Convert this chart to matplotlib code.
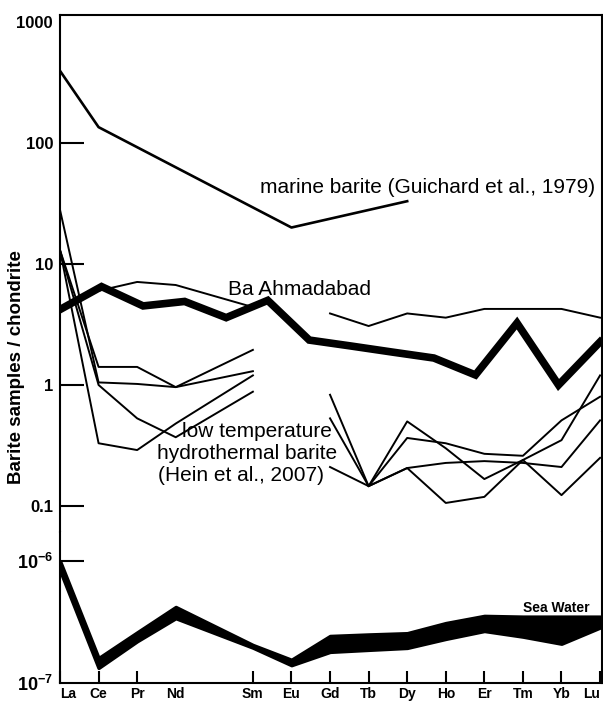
import numpy as np
import matplotlib.pyplot as plt

plt.rcParams['font.family'] = ['Liberation Sans', 'DejaVu Sans']
plt.rcParams['mathtext.fontset'] = 'custom'
plt.rcParams['mathtext.rm'] = 'Liberation Sans'
plt.rcParams['mathtext.bf'] = 'Liberation Sans:bold'

# rare earth elements (Pm slot left empty on the axis)
ree = ['La', 'Ce', 'Pr', 'Nd', 'Pm', 'Sm', 'Eu', 'Gd', 'Tb', 'Dy', 'Ho', 'Er', 'Tm', 'Yb', 'Lu']
shown = [e for e in ree if e != 'Pm']

# Ba Ahmadabad (plotted evenly over the whole width, as in the original)
ba_ahmadabad = [4.2, 6.5, 4.5, 4.9, 3.6, 5.0, 2.35, 2.1, 1.87, 1.67, 1.21, 3.25, 1.0, 2.27]

# marine barite (Guichard et al., 1979)
marine_el = ['La', 'Ce', 'Eu', 'Dy']
marine_val = [394, 135, 20, 33]

# low temperature hydrothermal barite (Hein et al., 2007), La..Sm part
hein_left_el = ['La', 'Ce', 'Pr', 'Nd', 'Sm']
hein_left = [
    [13, 1.41, 1.41, 0.96, 1.95],
    [28, 1.05, 1.02, 0.96, 1.30],
    [13, 1.0, 0.53, 0.37, 0.88],
    [13, 0.33, 0.29, 0.48, 1.2],
]
# Gd..Lu part
hein_right_el = ['Gd', 'Tb', 'Dy', 'Ho', 'Er', 'Tm', 'Yb', 'Lu']
hein_right = [
    [0.83, 0.146, 0.50, 0.30, 0.167, 0.24, 0.35, 1.2],
    [0.53, 0.146, 0.365, 0.33, 0.27, 0.26, 0.51, 0.8],
    [0.21, 0.146, 0.206, 0.227, 0.235, 0.227, 0.21, 0.51],
    [np.nan, 0.146, 0.206, 0.106, 0.119, 0.24, 0.123, 0.25],
]
# thin sample line above Ba Ahmadabad
upper_el = ['Ce', 'Pr', 'Nd', 'Sm', 'Eu', 'Gd', 'Tb', 'Dy', 'Ho', 'Er', 'Tm', 'Yb', 'Lu']
upper_val = [6.0, 7.1, 6.7, 4.4, np.nan, 3.9, 3.07, 3.9, 3.6, 4.25, 4.25, 4.25, 3.6]

# sea water band
sea_hi = [1.0e-6, 1.6e-7, 2.6e-7, 4.2e-7, 2.05e-7, 1.55e-7, 2.43e-7, 2.5e-7, 2.56e-7, 3.1e-7, 3.55e-7, 3.5e-7, 3.5e-7, 3.5e-7]
sea_lo = [8.4e-7, 1.33e-7, 2.2e-7, 3.4e-7, 1.95e-7, 1.4e-7, 1.8e-7, 1.87e-7, 1.94e-7, 2.3e-7, 2.67e-7, 2.4e-7, 2.1e-7, 2.85e-7]

pos = {e: i for i, e in enumerate(ree)}


def xs(els):
    return [pos[e] for e in els]


W, H = 603, 701
fig = plt.figure(figsize=(W / 100, H / 100), dpi=100)


def px_axes(x0, y0, x1, y1):
    return fig.add_axes([x0 / W, 1 - y1 / H, (x1 - x0) / W, (y1 - y0) / H])


ax1 = px_axes(60, 15, 602, 532)
ax2 = px_axes(60, 532, 602, 683)

for ax in (ax1, ax2):
    ax.set_xlim(0, 14.05)
    ax.set_yscale('log')
    for s in ax.spines.values():
        s.set_linewidth(1.5)
ax1.spines['bottom'].set_visible(False)
ax2.spines['top'].set_visible(False)
ax1.set_ylim(0.061, 1140)
ax2.set_ylim(1e-7, 1.73e-6)

lw_thin = 1.4
# upper part
ax1.plot(xs(marine_el), marine_val, color='black', lw=1.9)
for row in hein_left:
    ax1.plot(xs(hein_left_el), row, color='black', lw=lw_thin)
for row in hein_right:
    ax1.plot(xs(hein_right_el), row, color='black', lw=lw_thin)
ax1.plot(xs(upper_el), upper_val, color='black', lw=lw_thin)
ax1.plot(np.linspace(0, 14, len(ba_ahmadabad)), ba_ahmadabad, color='black',
         lw=5.5, solid_joinstyle='miter', zorder=5)

ax1.text(5.19, 38.6, 'marine barite (Guichard et al., 1979)', fontsize=15, va='baseline')
ax1.text(4.36, 5.55, 'Ba Ahmadabad', fontsize=15, va='baseline')
ax1.text(3.16, 0.372, 'low temperature', fontsize=15, va='baseline')
ax1.text(2.52, 0.245, 'hydrothermal barite', fontsize=15, va='baseline')
ax1.text(2.54, 0.161, '(Hein et al., 2007)', fontsize=15, va='baseline')

# sea water part
sx = xs(shown)
ax2.fill_between(sx, sea_lo, sea_hi, color='black', lw=2.5, edgecolor='black')
ax2.text(13.74, 3.82e-7, 'Sea Water', fontsize=10, fontweight='bold', ha='right', va='baseline')

# y ticks
ax1.set_yticks([0.1, 1, 10, 100, 1000])
ax1.set_yticklabels(['0.1', '1', '10', '100', '1000'])
ax1.yaxis.set_minor_locator(plt.NullLocator())
ax1.tick_params(axis='y', direction='in', length=17, width=1.5, labelsize=12, pad=5)
ax1.yaxis.get_major_ticks()[-1].tick1line.set_visible(False)
ax1.set_xticks([])

ax2.set_yticks([1e-7, 1e-6])
ax2.set_yticklabels([r'$\mathbf{10^{-7}}$', r'$\mathbf{10^{-6}}$'])
ax2.yaxis.set_minor_locator(plt.NullLocator())
ax2.tick_params(axis='y', direction='in', length=17, width=1.5, labelsize=13, pad=5)
ax2.yaxis.get_major_ticks()[0].tick1line.set_visible(False)

ax2.set_xticks(sx)
ax2.set_xticklabels(shown)
ax2.tick_params(axis='x', direction='in', length=8.6, width=1.5, labelsize=10, pad=3)
for t, e in zip(ax2.xaxis.get_major_ticks(), shown):
    if e == 'Nd':
        t.tick1line.set_visible(False)
labels = ax2.get_xticklabels()
labels[0].set_ha('left')
labels[-1].set_ha('right')

for lbl in ax1.get_yticklabels() + ax2.get_xticklabels():
    lbl.set_fontweight('bold')

fig.text(17 / W, 1 - 367 / H, 'Barite samples / chondrite', rotation=90,
         ha='center', va='center', fontsize=13.5, fontweight='bold')

fig.savefig('out.png', dpi=100)
